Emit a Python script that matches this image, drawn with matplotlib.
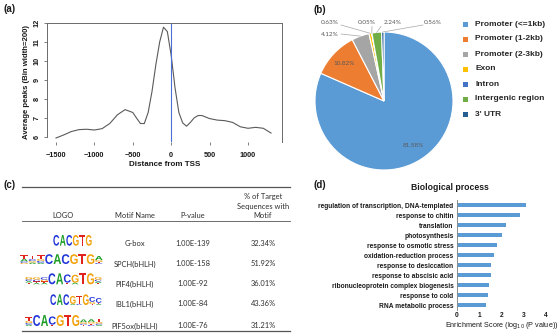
import numpy as np
import matplotlib
matplotlib.use("Agg")
import matplotlib.pyplot as plt
import matplotlib.transforms as mtransforms
from matplotlib.textpath import TextPath
from matplotlib.patches import PathPatch, Rectangle
from matplotlib.font_manager import FontProperties

# ---------------- data ----------------
# (a) average peak density around the TSS
tss_distance = [-1500, -1400, -1300, -1200, -1100, -1000, -900, -800, -700, -600,
                -500, -450, -400, -350, -300, -250, -200, -150, -100, -50,
                0, 50, 100, 150, 200, 250, 300, 350, 400, 500,
                600, 700, 800, 900, 1000, 1100, 1200, 1300]
avg_peaks = [5.96, 6.12, 6.30, 6.40, 6.42, 6.38, 6.45, 6.72, 7.18, 7.45,
             7.30, 7.00, 6.72, 6.72, 7.30, 8.40, 9.80, 11.00, 11.78, 11.55,
             10.30, 8.60, 7.30, 6.75, 6.58, 6.78, 7.02, 7.14, 7.14, 6.98,
             6.90, 6.87, 6.78, 6.55, 6.47, 6.52, 6.47, 6.22]

# (b) genomic distribution of peaks
region_names = ["Promoter (<=1kb)", "Promoter (1-2kb)", "Promoter (2-3kb)", "Exon",
                "Intron", "Intergenic region", "3' UTR"]
region_pct = [81.58, 10.82, 4.12, 0.63, 0.05, 2.24, 0.56]
region_colors = ["#5B9BD5", "#ED7D31", "#A5A5A5", "#FFC000", "#4472C4", "#70AD47", "#255E91"]

# (c) enriched motifs
motif_names = ["G-box", "SPCH(bHLH)", "PIF4(bHLH)", "IBL1(bHLH)", "PIF5ox(bHLH)"]
motif_pvalues = ["1.00E-139", "1.00E-158", "1.00E-92", "1.00E-84", "1.00E-76"]
motif_target_pct = ["32.34%", "51.92%", "36.01%", "43.36%", "31.21%"]
F = 1.0
motif_logos = [
    [[("C", F)], [("A", F)], [("C", F)], [("G", F)], [("T", F)], [("G", F)]],
    [[("G", .12), ("C", .15), ("A", .28), ("T", .35)],
     [("A", .15), ("G", .15), ("C", .2), ("T", .35)],
     [("A", .12), ("C", .2), ("G", .2), ("T", .35)],
     [("C", F)], [("A", F)], [("C", F)], [("G", F)], [("T", F)], [("G", F)],
     [("C", .1), ("T", .12), ("G", .18), ("A", .42)]],
    [[("T", .15), ("A", .15), ("C", .15), ("G", .22)],
     [("A", .12), ("T", .15), ("C", .15), ("G", .22)],
     [("A", .12), ("T", .15), ("G", .15), ("C", .22)],
     [("C", F)], [("A", F)],
     [("T", .15), ("C", .75)],
     [("A", .15), ("G", .72)],
     [("T", F)], [("G", F)],
     [("T", .12), ("A", .15), ("C", .15), ("G", .25)]],
    [[("C", F)], [("A", F)], [("C", F)],
     [("A", .1), ("G", .75)],
     [("C", .1), ("T", .75)],
     [("G", F)],
     [("T", .1), ("G", .2), ("C", .45)],
     [("A", .1), ("T", .1), ("C", .45)]],
    [[("A", .12), ("C", .15), ("G", .2), ("T", .35)],
     [("C", F)], [("A", F)],
     [("T", .12), ("C", .75)],
     [("G", F)], [("T", F)], [("G", F)],
     [("T", .1), ("C", .1), ("G", .15), ("A", .25)],
     [("C", .1), ("T", .12), ("G", .15), ("A", .25)],
     [("A", .1), ("C", .12), ("G", .15), ("T", .3)]],
]

# (d) GO biological process enrichment
go_terms = ["regulation of transcription, DNA-templated", "response to chitin", "translation",
            "photosynthesis", "response to osmotic stress", "oxidation-reduction process",
            "response to desiccation", "response to abscisic acid",
            "ribonucleoprotein complex biogenesis", "response to cold", "RNA metabolic process"]
go_scores = [3.09, 2.83, 2.20, 2.00, 1.79, 1.66, 1.54, 1.51, 1.44, 1.40, 1.30]

# ---------------- layout helpers ----------------
W, H = 558, 333
fig = plt.figure(figsize=(W / 100, H / 100), dpi=100)
fig.patch.set_facecolor("white")

def add_ax(left, top, right, bottom):
    return fig.add_axes([left / W, 1 - bottom / H, (right - left) / W, (bottom - top) / H])

# full-figure overlay in pixel units (y downwards) for labels, table and logos
ov = fig.add_axes([0, 0, 1, 1])
ov.set_xlim(0, W)
ov.set_ylim(H, 0)
ov.axis("off")
ov.patch.set_visible(False)
ov.set_zorder(10)

SANS = "Liberation Sans"
CAL = "Lato"
INK = "#1a1a1a"

for lab, x, y in [("(a)", 3, 9), ("(b)", 313, 10), ("(c)", 3, 185), ("(d)", 313, 185)]:
    ov.text(x, y, lab, fontsize=7, fontweight="bold", family=SANS, color=INK, va="center", ha="left")

# ---------------- (a) ----------------
ax = add_ax(47, 23, 282, 142)
ax.plot(tss_distance, avg_peaks, color="#5a5a5a", lw=0.8)
ax.axvline(0, color="#4c6fd6", lw=0.8)
ax.set_xlim(-1617, 1443)
ax.set_ylim(5.75, 12)
ax.set_xticks([-1500, -1000, -500, 0, 500, 1000])
ax.set_yticks([6, 7, 8, 9, 10, 11, 12])
for s in ax.spines.values():
    s.set_color("#6a6a6a")
    s.set_linewidth(0.7)
ax.spines["left"].set_bounds(6, 12)
ax.spines["bottom"].set_visible(False)
ax.tick_params(axis="both", length=2.5, width=0.6, color="#6a6a6a", pad=2,
               labelsize=5.3, labelcolor=INK)
ax.tick_params(axis="x", pad=5)
for t in ax.get_xticklabels():
    t.set_fontweight("bold"); t.set_family(SANS)
for t in ax.get_yticklabels():
    t.set_fontweight("bold"); t.set_family(SANS); t.set_rotation(90); t.set_va("center")
ax.set_xlabel("Distance from TSS", fontsize=5.8, fontweight="bold", family=SANS, color=INK, labelpad=1)
ax.set_ylabel("Average peaks (Bin width=200)", fontsize=5.6, fontweight="bold", family=SANS,
              color=INK, labelpad=3)

# ---------------- (b) ----------------
cx, cy, r = 384, 101, 69
axp = add_ax(cx - r, cy - r, cx + r, cy + r)
axp.pie(region_pct, colors=region_colors, startangle=90, counterclock=False, radius=1,
        wedgeprops=dict(edgecolor="white", linewidth=0.8))
axp.set_xlim(-1, 1)
axp.set_ylim(-1, 1)
axp.set_aspect("equal")

bounds = np.concatenate([[0], np.cumsum(region_pct)]) / 100.0
mid_theta = (bounds[:-1] + bounds[1:]) / 2 * 2 * np.pi

def pie_px(theta, frac):
    return cx + frac * r * np.sin(theta), cy - frac * r * np.cos(theta)

pie_lab = dict(fontsize=4.6, family=CAL, color="#595959", va="center")
# inside labels
for i, frac in [(0, 0.77), (1, 0.80)]:
    x, y = pie_px(mid_theta[i], frac)
    ov.text(x, y, f"{region_pct[i]:.2f}%", ha="center", **pie_lab)
# outside labels with leader lines: (index, text x, text y, ha, line start)
outside = [(2, 339, 34, "right", (341, 34)),
           (3, 339, 23, "right", (341, 25)),
           (4, 367, 23, "center", (372, 26.5)),
           (5, 393, 23, "center", (381, 26.5)),
           (6, 433, 23, "center", (423, 25))]
for i, tx, ty, ha, (lx, ly) in outside:
    ov.text(tx, ty, f"{region_pct[i]:.2f}%", ha=ha, **pie_lab)
    ex, ey = pie_px(mid_theta[i], 1.0)
    ov.plot([lx, ex], [ly, ey], color="#a6a6a6", lw=0.5)

for k, (name, col) in enumerate(zip(region_names, region_colors)):
    y = 24 + k * 15.0
    ov.add_patch(Rectangle((463, y - 2.5), 5, 5, facecolor=col, edgecolor="none"))
    ov.text(475, y, name, fontsize=6, fontweight="bold", family=SANS, color="#262626",
            va="center", ha="left")

# ---------------- (c) ----------------
rule_x0, rule_x1 = 22, 290
ov.plot([rule_x0, rule_x1], [187, 187], color="#555555", lw=0.9)
ov.plot([rule_x0, rule_x1], [221, 221], color="#555555", lw=0.6)
ov.plot([rule_x0, rule_x1], [331, 331], color="#555555", lw=0.9)

tab = dict(fontsize=5.4, family=CAL, color="#2e2e2e", va="center", ha="center")
col_x = [63, 135, 193, 263]
ov.text(col_x[0], 216, "LOGO", **tab)
ov.text(col_x[1], 216, "Motif Name", **tab)
ov.text(col_x[2], 216, "P-value", **tab)
for txt, y in [("% of Target", 196), ("Sequences with", 206), ("Motif", 216)]:
    ov.text(col_x[3], y, txt, **tab)

row_y = [243, 264, 284, 304, 326]
for y, nm, pv, pc in zip(row_y, motif_names, motif_pvalues, motif_target_pct):
    ov.text(col_x[1], y, nm, **tab)
    ov.text(col_x[2], y, pv, **tab)
    ov.text(col_x[3], y, pc, **tab)

letter_colors = {"A": "#1f9e2a", "C": "#2236d8", "G": "#f2a10a", "T": "#e0241d"}
logo_font = FontProperties(family=SANS, weight="bold")

def draw_letter(ch, x0, y_base, w, h):
    tp = TextPath((0, 0), ch, size=1, prop=logo_font)
    ext = tp.get_extents()
    tr = (mtransforms.Affine2D().translate(-ext.x0, -ext.y0)
          .scale(w / ext.width, -h / ext.height).translate(x0, y_base))
    ov.add_patch(PathPatch(tr.transform_path(tp), facecolor=letter_colors[ch],
                           edgecolor="none", lw=0))

# right edge, baseline, column width, full letter height per logo
logo_geom = [(92, 245.7, 6.5, 10.7), (103, 264, 8.3, 9.8), (102, 284.3, 7.7, 11.0),
             (102, 305, 6.5, 10.7), (103, 326, 7.8, 11.0)]
for logo, (xr, yb, cw, fh) in zip(motif_logos, logo_geom):
    x_left = xr - cw * len(logo)
    for j, stack in enumerate(logo):
        y = yb
        for ch, frac in stack:
            h = frac * fh
            draw_letter(ch, x_left + j * cw + 0.35, y, cw - 0.7, h)
            y -= h

# ---------------- (d) ----------------
axd = add_ax(457, 200, 546, 310)
ypos = np.arange(len(go_terms))
axd.barh(ypos, go_scores, height=0.42, color="#5B9BD5")
axd.set_ylim(10.5, -0.53)
axd.set_xlim(0, 4)
axd.set_xticks([0, 1, 2, 3, 4])
axd.set_yticks(ypos)
axd.set_yticklabels(go_terms)
for s in ["top", "right", "bottom"]:
    axd.spines[s].set_visible(False)
axd.spines["left"].set_color("#8c8c8c")
axd.spines["left"].set_linewidth(0.7)
axd.tick_params(axis="both", length=0, labelsize=4.8, labelcolor=INK)
axd.tick_params(axis="y", pad=2.5)
axd.tick_params(axis="x", pad=1.5)
for t in axd.get_yticklabels() + axd.get_xticklabels():
    t.set_fontweight("bold"); t.set_family(SANS)
axd.set_xlabel("Enrichment Score (log$_{10}$ (P value))", fontsize=5.2, family=SANS,
               color=INK, labelpad=0.5)
axd.set_title("Biological process", fontsize=6.2, fontweight="bold", family=SANS,
              color=INK, x=-0.08, pad=7)

fig.savefig("out.png", dpi=100)
